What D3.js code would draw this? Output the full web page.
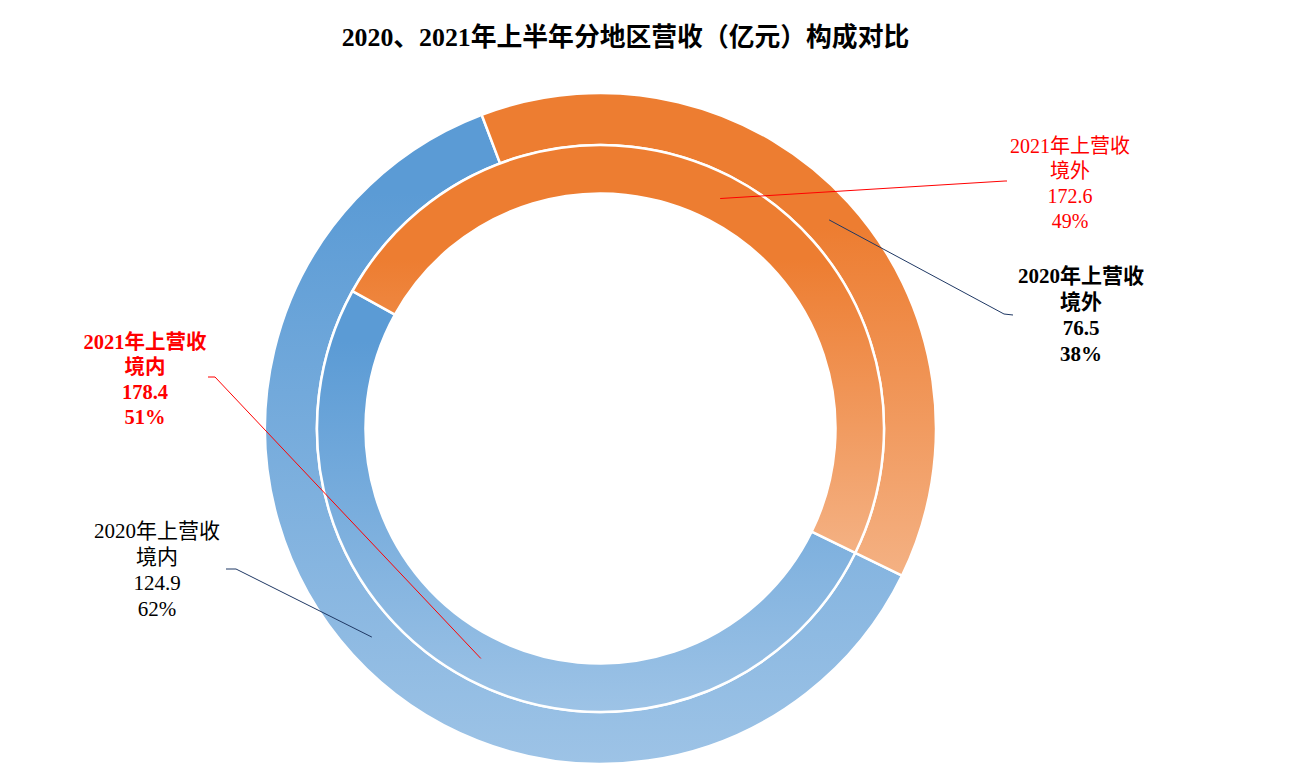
<!DOCTYPE html>
<html>
<head>
<meta charset="utf-8">
<script src="https://cdn.jsdelivr.net/npm/d3@7/dist/d3.min.js"></script>
<style>
  html, body { margin: 0; padding: 0; background: #fff; }
  svg { display: block; font-family: "Liberation Serif", "Times New Roman", "Noto Sans CJK SC", serif; }
</style>
</head>
<body>
<svg id="chart" width="1297" height="781"></svg>
<script>
// ---- data ----
const title = "2020、2021年上半年分地区营收（亿元）构成对比";
const regions = ["境内", "境外"];
const seriesNames = ["2020年上营收", "2021年上营收"];
const values2020 = [124.9, 76.5];
const values2021 = [178.4, 172.6];

// ---- layout ----
const W = 1297, H = 781;
const cx = 600.5, cy = 428.5;
const svg = d3.select("#chart");
const defs = svg.append("defs");

const gradDefs = {
  "境内": ["#5B9BD5", "#5B9BD5", "#9DC3E6"],
  "境外": ["#ED7D31", "#ED7D31", "#F4B183"]
};
const gradStops = { "境内": [0, 0.12, 1], "境外": [0, 0.28, 1] };
regions.forEach((r, i) => {
  const g = defs.append("linearGradient").attr("id", "grad" + i)
    .attr("x1", 0).attr("y1", 0).attr("x2", 0).attr("y2", 1);
  gradDefs[r].forEach((c, k) => g.append("stop").attr("offset", gradStops[r][k]).attr("stop-color", c));
});

const startDeg = 116;
const pie = d3.pie().sort(null)
  .startAngle(startDeg * Math.PI / 180)
  .endAngle((startDeg + 360) * Math.PI / 180);

const rings = [
  { name: seriesNames[0], values: values2020, inner: 283.5, outer: 335.5 },
  { name: seriesNames[1], values: values2021, inner: 235, outer: 283.5 }
];

const pct = d3.format(".0%");
const g = svg.append("g").attr("transform", `translate(${cx},${cy})`);

const centroids = {};
rings.forEach((ring, ri) => {
  const arc = d3.arc().innerRadius(ring.inner).outerRadius(ring.outer);
  const arcs = pie(ring.values);
  const total = d3.sum(ring.values);
  g.selectAll(null).data(arcs).enter().append("path")
    .attr("d", arc)
    .attr("fill", (d, i) => `url(#grad${i})`)
    .attr("stroke", "#fff")
    .attr("stroke-width", 2.5)
    .attr("stroke-linejoin", "round");
  arcs.forEach((d, i) => {
    centroids[ri + "-" + i] = { c: arc.centroid(d), v: d.value, p: d.value / total };
  });
});

// label layout (positions relative to svg)
const labelLayout = [
  { key: "1-1", x: 1070, y: 146, gap: 25, size: 20, color: "#FF0000", bold: false, elbow: [[1005, 181], [1007, 181]], line: "#FF0000" },
  { key: "0-1", x: 1081, y: 276, gap: 26, size: 21, color: "#000000", bold: true, elbow: [[1004, 314], [1013, 315]], line: "#1F3864" },
  { key: "1-0", x: 145, y: 342, gap: 25, size: 20.5, color: "#FF0000", bold: true, elbow: [[215, 377], [208, 377]], line: "#FF0000" },
  { key: "0-0", x: 157, y: 531, gap: 26, size: 21, color: "#000000", bold: false, elbow: [[236, 569], [226, 569]], line: "#1F3864" }
];

labelLayout.forEach(L => {
  const [ri, si] = L.key.split("-").map(Number);
  const info = centroids[L.key];
  const start = [cx + info.c[0], cy + info.c[1]];
  svg.append("path")
    .attr("d", d3.line()([start, ...L.elbow]))
    .attr("fill", "none").attr("stroke", L.line).attr("stroke-width", 1);
  const lines = [rings[ri].name, regions[si], d3.format(".1f")(info.v), pct(info.p)];
  const t = svg.append("text")
    .attr("text-anchor", "middle")
    .attr("fill", L.color)
    .attr("font-size", L.size)
    .attr("font-weight", L.bold ? "bold" : "normal");
  lines.forEach((s, k) => {
    t.append("tspan").attr("x", L.x).attr("y", L.y + k * L.gap)
      .attr("dominant-baseline", "central").text(s);
  });
});

svg.append("text")
  .attr("x", 625.5).attr("y", 37)
  .attr("text-anchor", "middle").attr("dominant-baseline", "central")
  .attr("font-size", 25.8).attr("font-weight", "bold").attr("fill", "#000")
  .text(title);
</script>
</body>
</html>
